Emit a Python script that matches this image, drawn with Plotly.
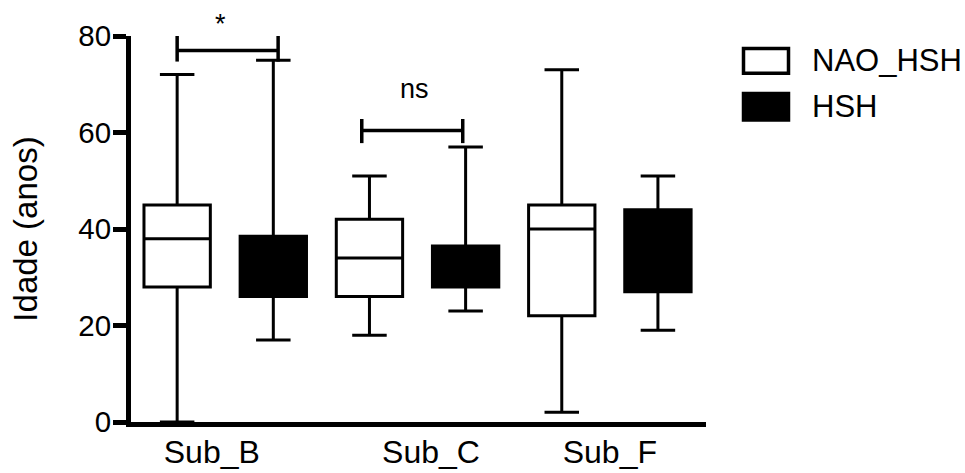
import plotly.graph_objects as go

# Subtypes and group labels
categories = ["Sub_B", "Sub_C", "Sub_F"]
groups = ["NAO_HSH", "HSH"]

# Box summary statistics (age, years) per subtype
nao_min = [0, 18, 2]
nao_q1 = [28, 26, 22]
nao_median = [38, 34, 40]
nao_q3 = [45, 42, 45]
nao_max = [72, 51, 73]

hsh_min = [17, 23, 19]
hsh_q1 = [26, 28, 27]
hsh_median = [32, 32, 35]
hsh_q3 = [38.5, 36.5, 44]
hsh_max = [75, 57, 51]

y_ticks = [0, 20, 40, 60, 80]

# Significance comparisons: label per compared subtype
sig_labels = ["*", "ns"]

FONT = "Arial, Liberation Sans, Helvetica, sans-serif"
W, H = 965, 473
ML, MR, MT, MB = 131, 259, 36, 51

# slot positions: NAO_HSH at even slots, HSH at odd slots
nao_x = [2 * i for i in range(len(categories))]
hsh_x = [2 * i + 1 for i in range(len(categories))]
label_x = [0.36, 2.64, 4.5]

fig = go.Figure()

fig.add_trace(go.Box(
    name=groups[0], x=nao_x,
    q1=nao_q1, median=nao_median, q3=nao_q3,
    lowerfence=nao_min, upperfence=nao_max,
    fillcolor="white", line=dict(color="black", width=3),
    width=0.69, whiskerwidth=0.52, boxpoints=False,
    showlegend=False, hoverinfo="skip",
))
fig.add_trace(go.Box(
    name=groups[1], x=hsh_x,
    q1=hsh_q1, median=hsh_median, q3=hsh_q3,
    lowerfence=hsh_min, upperfence=hsh_max,
    fillcolor="black", line=dict(color="black", width=3),
    width=0.69, whiskerwidth=0.52, boxpoints=False,
    showlegend=False, hoverinfo="skip",
))

shapes = []
annotations = []

pw, ph = W - ML - MR, H - MT - MB


def px(xp):
    return (xp - ML) / pw


def py(yp):
    return 1 - (yp - MT) / ph


def yval(v):
    # data value -> paper fraction on the y axis (range 0..80)
    return v / 80.0


# significance brackets (x0, x1, bar y, end-tick top, end-tick bottom, text x, text y)
brackets = [
    (0.0, 1.05, 77.0, 80.2, 74.7, 0.45, 82.5),
    (1.92, 2.97, 60.4, 62.8, 57.8, 2.47, 69.0),
]
for (x0, x1, yb, yt, ybt, tx, ty), lab in zip(brackets, sig_labels):
    ln = dict(color="black", width=3.5)
    shapes.append(dict(type="line", xref="x", yref="y", x0=x0, x1=x1, y0=yb, y1=yb, line=ln))
    shapes.append(dict(type="line", xref="x", yref="y", x0=x0, x1=x0, y0=ybt, y1=yt, line=ln))
    shapes.append(dict(type="line", xref="x", yref="y", x0=x1, x1=x1, y0=ybt, y1=yt, line=ln))
    annotations.append(dict(x=tx, y=yval(ty), xref="x", yref="paper", text=lab, showarrow=False,
                            xanchor="center", yanchor="middle",
                            font=dict(family=FONT, size=27, color="black")))

# legend drawn in pixel space, converted to paper coordinates
swatches = [(46.7, 75.0, "white"), (91.7, 121.7, "black")]
for (y0, y1, fill), name in zip(swatches, groups):
    shapes.append(dict(type="rect", xref="paper", yref="paper",
                       x0=px(743.5), x1=px(788.5), y0=py(y1 - 1.75), y1=py(y0 + 1.75),
                       fillcolor=fill, line=dict(color="black", width=3.5)))
    annotations.append(dict(x=px(810), y=py((y0 + y1) / 2), xref="paper", yref="paper",
                            xanchor="left", yanchor="middle", text=name, showarrow=False,
                            font=dict(family=FONT, size=31, color="black")))

fig.update_layout(
    width=W, height=H,
    margin=dict(l=ML, r=MR, t=MT, b=MB, pad=0, autoexpand=False),
    paper_bgcolor="white", plot_bgcolor="white",
    boxmode="overlay",
    shapes=shapes, annotations=annotations,
    font=dict(family=FONT, color="black"),
    xaxis=dict(
        range=[-0.48, 5.5], showgrid=False, zeroline=False, automargin=False,
        showline=True, linecolor="black", linewidth=5,
        tickmode="array", tickvals=label_x, ticktext=categories,
        ticks="", tickfont=dict(family=FONT, size=32, color="black"),
        ticklabelstandoff=-2,
    ),
    yaxis=dict(
        range=[0, 80], showgrid=False, zeroline=False, automargin=False,
        showline=True, linecolor="black", linewidth=5,
        tickmode="array", tickvals=y_ticks,
        ticks="outside", ticklen=13, tickwidth=5, tickcolor="black",
        tickfont=dict(family=FONT, size=29.5, color="black"),
        ticklabelstandoff=-4,
        title=dict(text="Idade (anos)", font=dict(family=FONT, size=33, color="black"), standoff=32),
    ),
)

fig.write_html("out.html")
